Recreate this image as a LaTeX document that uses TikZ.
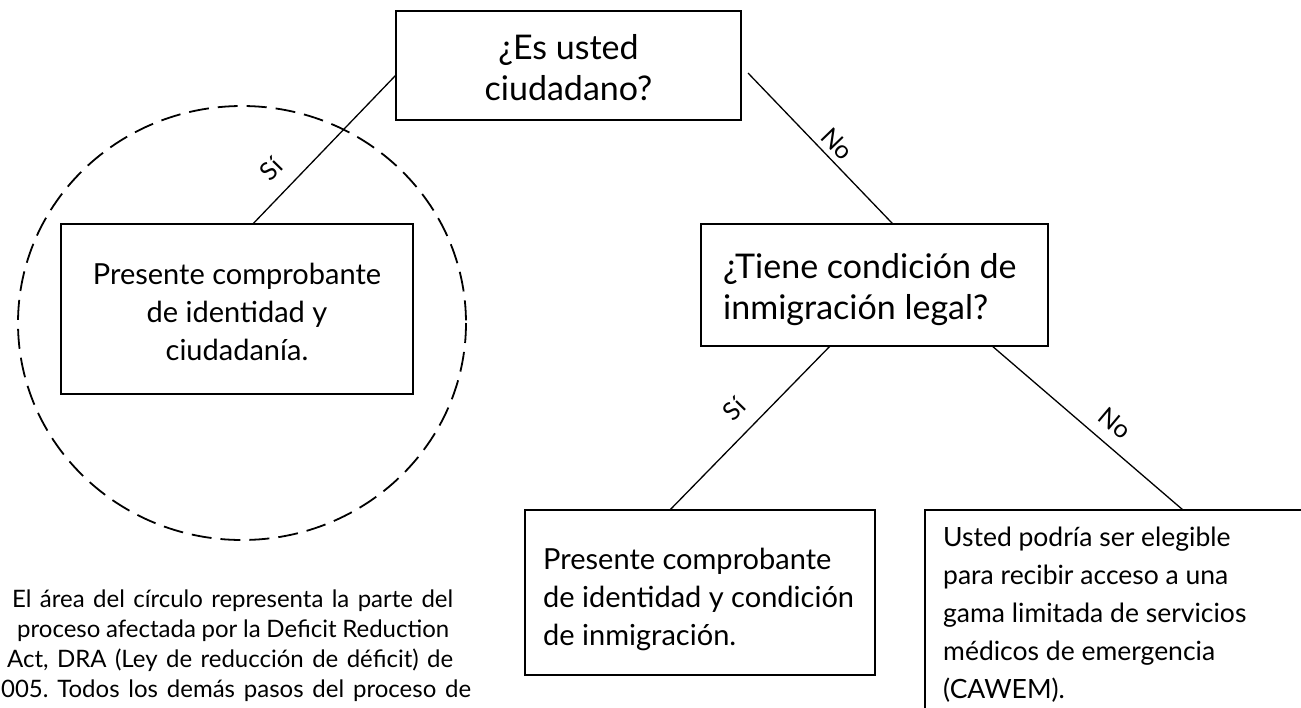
\documentclass[tikz,border=0pt]{standalone}
\usepackage{fontspec}
\setmainfont{Lato}
\usetikzlibrary{calc}
\frenchspacing
\begin{document}
\begin{tikzpicture}[x=1pt,y=-1pt,
  box/.style={draw, line width=1.6pt, inner sep=0pt, outer sep=0pt, anchor=north west},
  conn/.style={line width=1.3pt},
  qtext/.style={font=\fontsize{34}{41}\selectfont, inner sep=0pt},
  btext/.style={font=\fontsize{29}{38}\selectfont, inner sep=0pt},
  ctext/.style={font=\fontsize{26.5}{38}\selectfont, inner sep=0pt},
  ntext/.style={font=\fontsize{24}{30}\selectfont, inner sep=0pt, anchor=base west},
  lbl/.style={font=\fontsize{25}{28}\selectfont, inner sep=0pt}]
\useasboundingbox (0,0) rectangle (1301,707);
\clip (0,0) rectangle (1301,707);

% dashed circle
\draw[line width=1.8pt, dash pattern=on 20pt off 9pt] (242,323) ellipse [x radius=224, y radius=217];

% boxes
\node[box, minimum width=345pt, minimum height=109pt] (q1) at (396,11) {};
\node[box, minimum width=352pt, minimum height=170pt] (a1) at (61,224) {};
\node[box, minimum width=347pt, minimum height=122pt] (q2) at (701,224) {};
\node[box, minimum width=350pt, minimum height=165pt] (a2) at (525,510) {};
\node[box, minimum width=400pt, minimum height=260pt] (a3) at (925,510) {};

% texts
\node[qtext, align=center] (q1t) at (568.5,68) {¿Es usted\\ciudadano?};
\node[btext, align=center] (a1t) at (237,312) {Presente comprobante\\de identidad y\\ciudadanía.};
\node[qtext, align=left, anchor=west] (q2t) at (723,290) {¿Tiene condición de\\inmigración legal?};
\node[btext, align=left, anchor=north west] (a2t) at (543,548) {Presente comprobante\\de identidad y condición\\de inmigración.};
\node[ctext, align=left, anchor=north west] (a3t) at (943,527) {Usted podría ser elegible\\para recibir acceso a una\\gama limitada de servicios\\médicos de emergencia\\(CAWEM).};

\node[ntext] (note1) at (12,607) {\makebox[441pt][s]{El área del círculo representa la parte del}};
\node[ntext] (note2) at (17,637) {\makebox[432pt][s]{proceso afectada por la Deficit Reduction}};
\node[ntext] (note3) at (7,667) {\makebox[446pt][s]{Act, DRA (Ley de reducción de déficit) de}};
\node[ntext] (note4) at (-13,697) {\makebox[484pt][s]{2005. Todos los demás pasos del proceso de}};

% connectors
\draw[conn] ($(q1.north west)!0.587!(q1.south west)$) -- ($(a1.north west)!0.545!(a1.north east)$);
\draw[conn] ($(q1.north east)+(7,62)$) -- ($(q2.north west)!0.553!(q2.north east)$);
\draw[conn] ($(q2.south west)!0.372!(q2.south east)$) -- ($(a2.north west)!0.414!(a2.north east)$);
\draw[conn] ($(q2.south west)!0.839!(q2.south east)$) -- ($(a3.north west)!0.645!(a3.north east)$);

% labels
\node[lbl, rotate=45.7] (s1) at (271,169) {Sí};
\node[lbl, rotate=-46] (n1) at (837,144) {No};
\node[lbl, rotate=45.7] (s2) at (734,409) {Sí};
\node[lbl, rotate=-40] (n2) at (1115,423) {No};
\end{tikzpicture}
\end{document}
